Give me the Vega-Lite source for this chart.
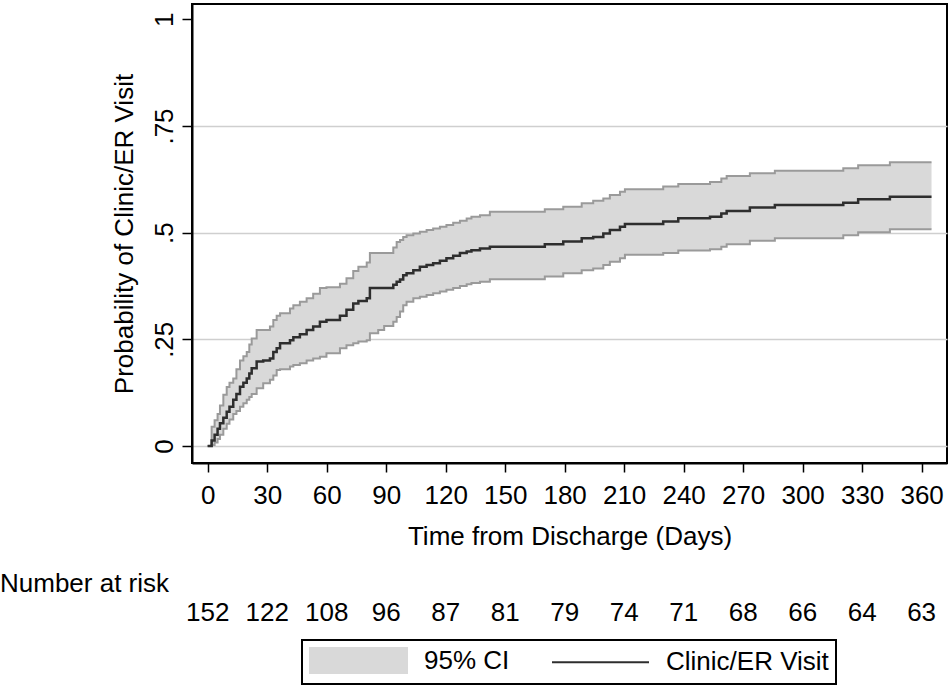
{
  "$schema": "https://vega.github.io/schema/vega-lite/v6.json",
  "padding": {"left": 0, "top": 3, "right": 3, "bottom": 0},
  "background": "white",
  "config": {
    "font": "Liberation Sans",
    "view": {"stroke": null},
    "axis": {"labelColor": "black", "titleColor": "black", "labelFont": "Liberation Sans", "titleFont": "Liberation Sans", "titleFontWeight": "normal"}
  },
  "datasets": {
    "km": [
      {"day": 0, "km": 0, "lo": 0, "hi": 0},
      {"day": 2, "km": 0.013, "lo": 0.002, "hi": 0.045},
      {"day": 3.5, "km": 0.026, "lo": 0.008, "hi": 0.06},
      {"day": 5, "km": 0.04, "lo": 0.016, "hi": 0.075},
      {"day": 6.2, "km": 0.053, "lo": 0.026, "hi": 0.095},
      {"day": 7.9, "km": 0.066, "lo": 0.04, "hi": 0.12},
      {"day": 9.6, "km": 0.08, "lo": 0.052, "hi": 0.138},
      {"day": 11, "km": 0.092, "lo": 0.062, "hi": 0.148},
      {"day": 12.9, "km": 0.108, "lo": 0.075, "hi": 0.158},
      {"day": 14.5, "km": 0.122, "lo": 0.082, "hi": 0.18},
      {"day": 16.3, "km": 0.139, "lo": 0.092, "hi": 0.2},
      {"day": 18, "km": 0.148, "lo": 0.1, "hi": 0.21},
      {"day": 19.7, "km": 0.158, "lo": 0.108, "hi": 0.22},
      {"day": 21, "km": 0.17, "lo": 0.115, "hi": 0.238},
      {"day": 22.2, "km": 0.182, "lo": 0.122, "hi": 0.252},
      {"day": 24.7, "km": 0.198, "lo": 0.135, "hi": 0.272},
      {"day": 28, "km": 0.2, "lo": 0.147, "hi": 0.272},
      {"day": 31.4, "km": 0.205, "lo": 0.155, "hi": 0.28},
      {"day": 33.1, "km": 0.22, "lo": 0.165, "hi": 0.295},
      {"day": 34.8, "km": 0.229, "lo": 0.178, "hi": 0.305},
      {"day": 36.5, "km": 0.241, "lo": 0.18, "hi": 0.311},
      {"day": 41.5, "km": 0.248, "lo": 0.186, "hi": 0.322},
      {"day": 43.2, "km": 0.255, "lo": 0.19, "hi": 0.33},
      {"day": 46.5, "km": 0.262, "lo": 0.194, "hi": 0.338},
      {"day": 49.9, "km": 0.272, "lo": 0.2, "hi": 0.346},
      {"day": 53.2, "km": 0.28, "lo": 0.205, "hi": 0.357},
      {"day": 56.6, "km": 0.291, "lo": 0.209, "hi": 0.37},
      {"day": 59.9, "km": 0.295, "lo": 0.217, "hi": 0.372},
      {"day": 66.7, "km": 0.305, "lo": 0.229, "hi": 0.38},
      {"day": 70, "km": 0.319, "lo": 0.236, "hi": 0.393},
      {"day": 73.4, "km": 0.334, "lo": 0.241, "hi": 0.41},
      {"day": 76, "km": 0.34, "lo": 0.245, "hi": 0.42},
      {"day": 80.2, "km": 0.346, "lo": 0.248, "hi": 0.43},
      {"day": 81.8, "km": 0.37, "lo": 0.264, "hi": 0.452},
      {"day": 86, "km": 0.37, "lo": 0.272, "hi": 0.452},
      {"day": 89, "km": 0.37, "lo": 0.281, "hi": 0.452},
      {"day": 93.6, "km": 0.378, "lo": 0.291, "hi": 0.465},
      {"day": 95.3, "km": 0.385, "lo": 0.302, "hi": 0.478},
      {"day": 97, "km": 0.39, "lo": 0.315, "hi": 0.483},
      {"day": 98.6, "km": 0.4, "lo": 0.33, "hi": 0.49},
      {"day": 100.3, "km": 0.405, "lo": 0.338, "hi": 0.494},
      {"day": 103.7, "km": 0.412, "lo": 0.346, "hi": 0.498},
      {"day": 107, "km": 0.42, "lo": 0.35, "hi": 0.502},
      {"day": 110.4, "km": 0.424, "lo": 0.354, "hi": 0.506},
      {"day": 113.7, "km": 0.428, "lo": 0.358, "hi": 0.51},
      {"day": 117.1, "km": 0.434, "lo": 0.362, "hi": 0.514},
      {"day": 120.4, "km": 0.44, "lo": 0.366, "hi": 0.518},
      {"day": 123.8, "km": 0.446, "lo": 0.37, "hi": 0.523},
      {"day": 127.2, "km": 0.452, "lo": 0.375, "hi": 0.528},
      {"day": 130.6, "km": 0.456, "lo": 0.379, "hi": 0.533},
      {"day": 133, "km": 0.459, "lo": 0.382, "hi": 0.537},
      {"day": 137.3, "km": 0.463, "lo": 0.385, "hi": 0.541},
      {"day": 142.3, "km": 0.467, "lo": 0.391, "hi": 0.549},
      {"day": 170, "km": 0.473, "lo": 0.397, "hi": 0.555},
      {"day": 179.3, "km": 0.479, "lo": 0.405, "hi": 0.561},
      {"day": 188.6, "km": 0.487, "lo": 0.412, "hi": 0.569},
      {"day": 194.4, "km": 0.49, "lo": 0.416, "hi": 0.575},
      {"day": 199.5, "km": 0.498, "lo": 0.424, "hi": 0.58},
      {"day": 202.8, "km": 0.506, "lo": 0.432, "hi": 0.588},
      {"day": 207.9, "km": 0.514, "lo": 0.44, "hi": 0.596},
      {"day": 210.4, "km": 0.52, "lo": 0.448, "hi": 0.602},
      {"day": 229.7, "km": 0.526, "lo": 0.452, "hi": 0.608},
      {"day": 237.3, "km": 0.534, "lo": 0.458, "hi": 0.614},
      {"day": 253.3, "km": 0.537, "lo": 0.461, "hi": 0.619},
      {"day": 259, "km": 0.545, "lo": 0.467, "hi": 0.627},
      {"day": 261.7, "km": 0.551, "lo": 0.473, "hi": 0.633},
      {"day": 273.4, "km": 0.559, "lo": 0.481, "hi": 0.639},
      {"day": 286, "km": 0.565, "lo": 0.487, "hi": 0.645},
      {"day": 320.5, "km": 0.57, "lo": 0.494, "hi": 0.651},
      {"day": 328, "km": 0.578, "lo": 0.501, "hi": 0.658},
      {"day": 344, "km": 0.584, "lo": 0.508, "hi": 0.665},
      {"day": 365, "km": 0.584, "lo": 0.508, "hi": 0.665}
    ],
    "risk": [
      {"day": 0, "n": 152}, {"day": 30, "n": 122}, {"day": 60, "n": 108}, {"day": 90, "n": 96},
      {"day": 120, "n": 87}, {"day": 150, "n": 81}, {"day": 180, "n": 79}, {"day": 210, "n": 74},
      {"day": 240, "n": 71}, {"day": 270, "n": 68}, {"day": 300, "n": 66}, {"day": 330, "n": 64},
      {"day": 360, "n": 63}
    ]
  },
  "spacing": 21,
  "vconcat": [
    {
      "width": 755,
      "height": 459,
      "view": {"stroke": "black", "strokeWidth": 2},
      "data": {"name": "km"},
      "encoding": {
        "x": {
          "field": "day", "type": "quantitative",
          "scale": {"domain": [-7.9, 372.8], "nice": false, "zero": false},
          "axis": {
            "title": "Time from Discharge (Days)",
            "values": [0, 30, 60, 90, 120, 150, 180, 210, 240, 270, 300, 330, 360],
            "grid": false, "labelFontSize": 26, "titleFontSize": 26,
            "tickSize": 9, "tickWidth": 1.5, "tickColor": "black",
            "domainColor": "black", "domainWidth": 2,
            "labelPadding": 10, "titlePadding": 15
          }
        }
      },
      "layer": [
        {
          "mark": {"type": "area", "interpolate": "step-after"},
          "encoding": {
            "y": {
              "field": "lo", "type": "quantitative",
              "scale": {"domain": [-0.04, 1.036], "nice": false, "zero": false},
              "axis": {
                "title": "Probability of Clinic/ER Visit",
                "values": [0, 0.25, 0.5, 0.75, 1],
                "labelExpr": "datum.value == 0 ? '0' : datum.value == 1 ? '1' : replace(format(datum.value, '.2~f'), '0.', '.')",
                "labelAngle": 270, "labelAlign": "center", "labelBaseline": "alphabetic",
                "labelFontSize": 26, "titleFontSize": 26,
                "tickSize": 10, "tickWidth": 1.5, "tickColor": "black",
                "domainColor": "black", "domainWidth": 2,
                "labelPadding": 10, "titlePadding": 14,
                "grid": true, "gridColor": "#cfcfcf", "gridWidth": 1.5,
                "gridOpacity": {"condition": {"test": "datum.value >= 1", "value": 0}, "value": 1}
              }
            },
            "y2": {"field": "hi"},
            "color": {"datum": "95% CI"}
          }
        },
        {
          "mark": {"type": "line", "interpolate": "step-after", "color": "#9a9a9a", "strokeWidth": 2},
          "encoding": {"y": {"field": "lo", "type": "quantitative"}}
        },
        {
          "mark": {"type": "line", "interpolate": "step-after", "color": "#9a9a9a", "strokeWidth": 2},
          "encoding": {"y": {"field": "hi", "type": "quantitative"}}
        },
        {
          "mark": {"type": "line", "interpolate": "step-after", "strokeWidth": 2.5},
          "encoding": {
            "y": {"field": "km", "type": "quantitative"},
            "color": {
              "datum": "Clinic/ER Visit",
              "scale": {"domain": ["95% CI", "Clinic/ER Visit"], "range": ["#d9d9d9", "#2e2e2e"]},
              "legend": {
                "orient": "none", "legendX": 110, "legendY": 636,
                "direction": "horizontal", "title": null,
                "labelFontSize": 26, "labelFont": "Liberation Sans", "labelColor": "black", "labelLimit": 400,
                "symbolSize": 625, "labelOffset": 88, "columnPadding": 38,
                "padding": 7, "strokeColor": "black", "cornerRadius": 0,
                "encode": {
                  "legend": {"update": {"stroke": {"value": "black"}, "strokeWidth": {"value": 2}}},
                  "symbols": {
                    "update": {
                      "shape": {"signal": "datum.value === '95% CI' ? 'M-1,-1H6.76V1H-1Z' : 'M-1,0H6.76'"},
                      "fill": {"signal": "datum.value === '95% CI' ? '#d9d9d9' : 'transparent'"},
                      "stroke": {"signal": "datum.value === '95% CI' ? 'transparent' : '#2e2e2e'"},
                      "strokeWidth": {"value": 2},
                      "size": {"value": 625},
                      "opacity": {"value": 1}
                    }
                  }
                }
              }
            }
          }
        }
      ]
    },
    {
      "width": 755,
      "height": 20,
      "title": {"text": "Number at risk", "anchor": "start", "frame": "group", "dx": -192, "offset": 3, "fontSize": 26, "fontWeight": "normal", "color": "black", "font": "Liberation Sans"},
      "data": {"name": "risk"},
      "mark": {"type": "text", "fontSize": 26, "color": "black", "font": "Liberation Sans", "baseline": "middle"},
      "encoding": {
        "x": {"field": "day", "type": "quantitative", "scale": {"domain": [-7.9, 372.8], "nice": false, "zero": false}, "axis": null},
        "text": {"field": "n", "type": "quantitative"}
      }
    }
  ]
}
